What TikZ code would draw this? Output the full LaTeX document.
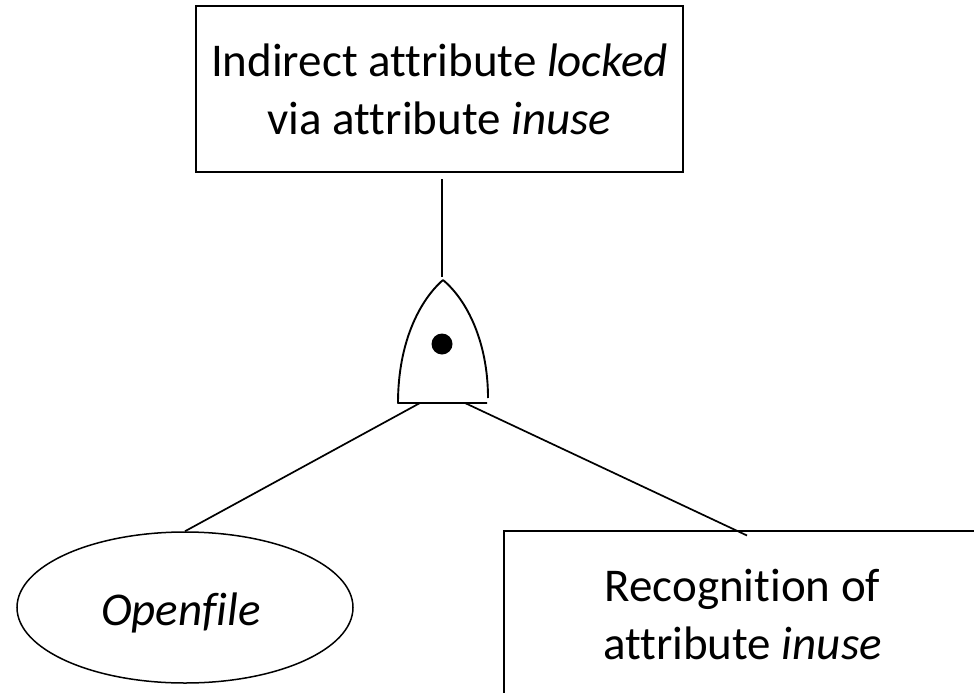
\documentclass[tikz,border=0pt]{standalone}
\usepackage{fontspec}
\setmainfont{Carlito}[Ligatures={NoCommon,NoContextual}]
\usetikzlibrary{shapes.geometric,calc}
\tikzset{
  txt/.style={font=\fontsize{47}{58}\selectfont, align=center, inner sep=0pt},
  boxnode/.style={txt, draw, line width=1.7pt, rectangle},
  ellnode/.style={draw, line width=1.5pt, ellipse, inner sep=0pt},
  gateline/.style={line width=1.9pt, line join=round},
  conn/.style={line width=1.7pt}
}
\begin{document}
\begin{tikzpicture}[x=1pt,y=-1pt]
\path[use as bounding box, clip] (0,0) rectangle (974,693);
\fill[white] (0,0) rectangle (974,693);

% nodes
\node[boxnode, minimum width=487pt, minimum height=166pt] (top) at (439.5,89)
  {Indirect attribute \textit{locked}\\via attribute \textit{inuse}};
\node[ellnode, minimum width=336pt, minimum height=151pt] (open) at (185,607.5) {};
\node[txt] (openlbl) at (181,613) {\textit{Openfile}};
\node[boxnode, minimum width=477pt, minimum height=167pt] (recog) at (742.5,614.5)
  {Recognition of\\attribute \textit{inuse}};

% gate
\coordinate (gtop) at (443,280);
\coordinate (gbl) at (398,402);
\coordinate (gbr) at (488,398);
\coordinate (gbase) at (443,403);
\coordinate (gl) at (420,403);
\coordinate (gr) at (465,403);
\draw[gateline] (gtop) .. controls (420,300) and (398,342) .. (gbl |- gbase)
  -- (487,403);
\draw[gateline] (gtop) .. controls (467,300) and (488,342) .. (gbr);
\fill (442,344) circle (10.5pt);
\node[inner sep=0pt] (dot) at (442,344) {};

% connectors
\coordinate (topout) at (442,179);
\coordinate (gatein) at (442,277);
\coordinate (recogin) at (747,535.5);
\draw[conn] (topout) -- (gatein);
\draw[conn] (gl) -- (open.north);
\draw[conn] (gr) -- (recogin);
\end{tikzpicture}
\end{document}
